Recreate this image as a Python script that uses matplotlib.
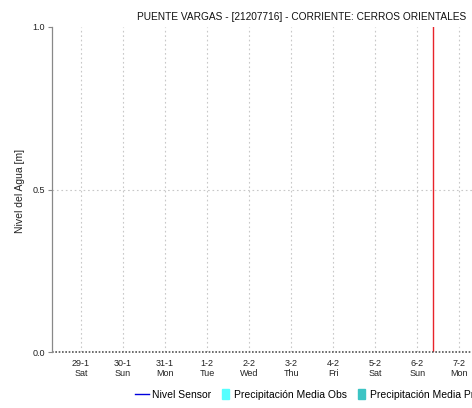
import matplotlib
matplotlib.use("Agg")
import matplotlib.pyplot as plt
import matplotlib.patches as mpatches
from matplotlib.lines import Line2D
from matplotlib.legend_handler import HandlerPatch

plt.rcParams['font.family'] = ['Liberation Sans', 'DejaVu Sans']

# ---- data ----
day_labels = ['29-1\nSat', '30-1\nSun', '31-1\nMon', '1-2\nTue', '2-2\nWed',
              '3-2\nThu', '4-2\nFri', '5-2\nSat', '6-2\nSun', '7-2\nMon']
day_pos = list(range(len(day_labels)))      # days since 29-1
nivel_x = []                                # no sensor data in the window
nivel_y = []
precip_obs = []
precip_pro = []
now_day = 8.38                              # current time marker (6-2 ~09:00)
x_range = (-0.69, 10.21)
y_ticks = [0.0, 0.5, 1.0]

fig = plt.figure(figsize=(4.72, 4.08), dpi=100)
W, H = 472, 408
ax = fig.add_axes([52 / W, (H - 352) / H, (510 - 52) / W, (352 - 27) / H])

ax.plot(nivel_x, nivel_y, color='#0000dd', lw=1)
ax.axvline(now_day, color='#e8232a', lw=1)

ax.set_xlim(*x_range)
ax.set_ylim(0, 1.0)
ax.set_xticks(day_pos)
ax.set_xticklabels(day_labels, fontsize=6.5, color='#222222', linespacing=1.1)
ax.set_yticks(y_ticks)
ax.set_yticklabels(['0.0', '0.5', '1.0'], fontsize=6.5, color='#222222')
ax.tick_params(axis='x', length=0, pad=5)
ax.tick_params(axis='y', length=3, color='#888888', pad=2)

for d in day_pos:
    ax.axvline(d, color='#c8c8c8', lw=0.8, ls=(0, (1.5, 2.5)), zorder=0)
ax.axhline(0.5, color='#c8c8c8', lw=0.8, ls=(0, (1.5, 2.5)), zorder=0)

for s in ['top', 'right', 'bottom']:
    ax.spines[s].set_visible(False)
ax.spines['left'].set_color('#888888')
ax.spines['left'].set_linewidth(0.9)
ax.axhline(0, color='#555555', lw=1.2, ls=(0, (1, 1)), clip_on=False)

fig.text(20 / W, (H - 191) / H, 'Nivel del Agua [m]', rotation=90, fontsize=7.5,
         color='#222222', ha='center', va='center')
fig.text(137 / W, (H - 17) / H, 'PUENTE VARGAS - [21207716] - CORRIENTE: CERROS ORIENTALES',
         fontsize=7.3, color='#111111', ha='left', va='center')


def narrow_patch(legend, orig_handle, xdescent, ydescent, width, height, fontsize):
    return mpatches.Rectangle((width - 6, -ydescent - 1), 5, height + 2)


handles = [Line2D([], [], color='#0000dd', lw=1),
           mpatches.Patch(color='#55ffff'),
           mpatches.Patch(color='#3cc4c4')]
labels = ['Nivel Sensor', 'Precipitación Media Obs', 'Precipitación Media Pronosticada']
fig.legend(handles, labels, loc='center left', bbox_to_anchor=(130 / W, (H - 395) / H),
           ncol=3, frameon=False, fontsize=7.5, handlelength=1.3, handletextpad=0.3,
           columnspacing=0.6, borderpad=0,
           handler_map={mpatches.Patch: HandlerPatch(patch_func=narrow_patch)})

fig.savefig('out.png', dpi=100)
